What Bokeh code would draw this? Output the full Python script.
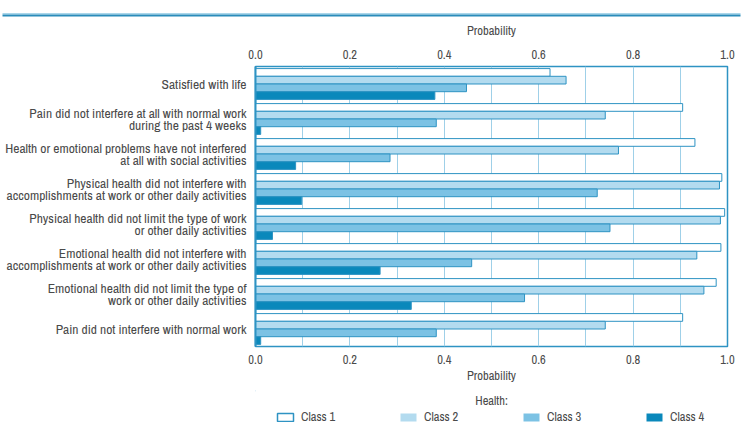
from bokeh.plotting import figure
from bokeh.models import (FactorRange, Range1d, LinearAxis, SingleIntervalTicker, Label,
                          Legend, LegendItem, ColumnDataSource, NumeralTickFormatter)
from bokeh.transform import dodge
from bokeh.layouts import column
from bokeh.embed import file_html
from bokeh.resources import INLINE

# ---------------- data ----------------
categories = [
    "Satisfied with life",
    "Pain did not interfere at all with normal work\nduring the past 4 weeks",
    "Health or emotional problems have not interfered\nat all with social activities",
    "Physical health did not interfere with\naccomplishments at work or other daily activities",
    "Physical health did not limit the type of work\nor other daily activities",
    "Emotional health did not interfere with\naccomplishments at work or other daily activities",
    "Emotional health did not limit the type of\nwork or other daily activities",
    "Pain did not interfere with normal work",
]
class1 = [0.624, 0.905, 0.931, 0.988, 0.994, 0.986, 0.976, 0.905]
class2 = [0.658, 0.741, 0.769, 0.983, 0.985, 0.935, 0.950, 0.741]
class3 = [0.447, 0.383, 0.285, 0.724, 0.751, 0.458, 0.570, 0.383]
class4 = [0.380, 0.011, 0.085, 0.098, 0.036, 0.264, 0.330, 0.011]
class_names = ["Class 1", "Class 2", "Class 3", "Class 4"]
legend_title = "Health:"
axis_title = "Probability"
x_ticks_step = 0.2
grid_step = 0.1

# ---------------- styles ----------------
FONT = "Archivo Narrow"
TEXT = "#4a4a4a"
EDGE = "#2e93c3"
FILLS = ["#ffffff", "#b3dbef", "#7cc2e4", "#0a88bb"]
LEGEND_EDGES = [EDGE, None, None, None]
GRID = "#9fd0e8"


def no_align(fig):
    try:
        fig.frame_align = False
    except Exception:
        pass


# ---------------- top rule ----------------
top = figure(width=742, height=17, x_range=Range1d(0, 742), y_range=Range1d(17, 0),
             min_border=0, toolbar_location=None, output_backend="svg")
no_align(top)
top.axis.visible = False
top.grid.visible = False
top.outline_line_color = None
top.segment(x0=[2], y0=[13.3], x1=[740], y1=[13.3], line_width=1, color="#86c6e3")
top.segment(x0=[2], y0=[15.0], x1=[740], y1=[15.0], line_width=2.2, color="#2a8cba")

# ---------------- main chart ----------------
src = ColumnDataSource(dict(cat=categories, c1=class1, c2=class2, c3=class3, c4=class4))

p = figure(width=742, height=373, y_range=FactorRange(factors=list(reversed(categories))),
           x_range=Range1d(0, 1), toolbar_location=None, output_backend="svg",
           min_border_left=255, min_border_right=15, min_border_top=49, min_border_bottom=44)
no_align(p)

offsets = [0.33, 0.11, -0.11, -0.33]
cols = ["c1", "c2", "c3", "c4"]
for off, c, fill in zip(offsets, cols, FILLS):
    p.hbar(y=dodge("cat", off, range=p.y_range), left=0, right=c, height=0.22,
           source=src, fill_color=fill, line_color=EDGE, line_width=1)

p.ygrid.visible = False
p.xgrid.ticker = SingleIntervalTicker(interval=grid_step, num_minor_ticks=0)
p.xgrid.grid_line_color = GRID
p.xgrid.grid_line_width = 1
p.outline_line_color = EDGE
p.outline_line_width = 1.5

top_axis = LinearAxis()
p.add_layout(top_axis, "above")
for ax in p.xaxis:
    ax.ticker = SingleIntervalTicker(interval=x_ticks_step, num_minor_ticks=0)
    ax.formatter = NumeralTickFormatter(format="0.0")
    ax.axis_label = axis_title
    ax.axis_line_color = None
    ax.major_tick_line_color = None
    ax.minor_tick_line_color = None
    ax.major_tick_out = 0
    ax.major_label_text_font = FONT
    ax.major_label_text_font_size = "12.5px"
    ax.major_label_text_color = TEXT
    ax.axis_label_text_font = FONT
    ax.axis_label_text_font_size = "12.5px"
    ax.axis_label_text_font_style = "normal"
    ax.axis_label_text_color = TEXT
top_axis.major_label_standoff = 8
top_axis.axis_label_standoff = 8
bottom_axis = [a for a in p.xaxis if a is not top_axis][0]
bottom_axis.major_label_standoff = 8
bottom_axis.axis_label_standoff = 0

ya = p.yaxis[0]
ya.axis_line_color = EDGE
ya.axis_line_width = 2
ya.major_tick_line_color = None
ya.minor_tick_line_color = None
ya.major_tick_out = 0
ya.major_label_standoff = 9
ya.major_label_text_font = FONT
ya.major_label_text_font_size = "13.5px"
ya.major_label_text_line_height = 0.70
ya.major_label_text_color = TEXT

# ---------------- legend strip (frame kept under the chart frame) ----------------
leg = figure(width=742, height=58, x_range=Range1d(255, 727), y_range=Range1d(58, 0),
             min_border_left=255, min_border_right=15, min_border_top=0, min_border_bottom=0,
             toolbar_location=None, output_backend="svg")
no_align(leg)
leg.axis.visible = False
leg.grid.visible = False
leg.outline_line_color = None
# zero-size proxy glyphs (outside the strip's range) that only supply the legend swatches
proxy = ColumnDataSource(dict(y=[0], left=[0], right=[0]))
leg_rends = [leg.hbar(y="y", left="left", right="right", height=0, source=proxy,
                      fill_color=f, line_color=e, line_width=1.5)
             for f, e in zip(FILLS, LEGEND_EDGES)]
leg.add_layout(Label(x=491, y=10, text=legend_title, text_align="center", text_baseline="middle",
                     text_font=FONT, text_font_size="12.5px", text_color=TEXT))
legend = Legend(items=[LegendItem(label=n, renderers=[r]) for n, r in zip(class_names, leg_rends)],
                orientation="horizontal", location=(20, 23), glyph_width=20, glyph_height=10,
                label_standoff=6, label_width=37, spacing=60, padding=0, margin=0,
                border_line_color=None, background_fill_alpha=0,
                label_text_font=FONT, label_text_font_size="12.5px", label_text_color=TEXT)
leg.add_layout(legend)

layout = column(top, p, leg, spacing=0)
open("out.html", "w").write(file_html(layout, INLINE))
